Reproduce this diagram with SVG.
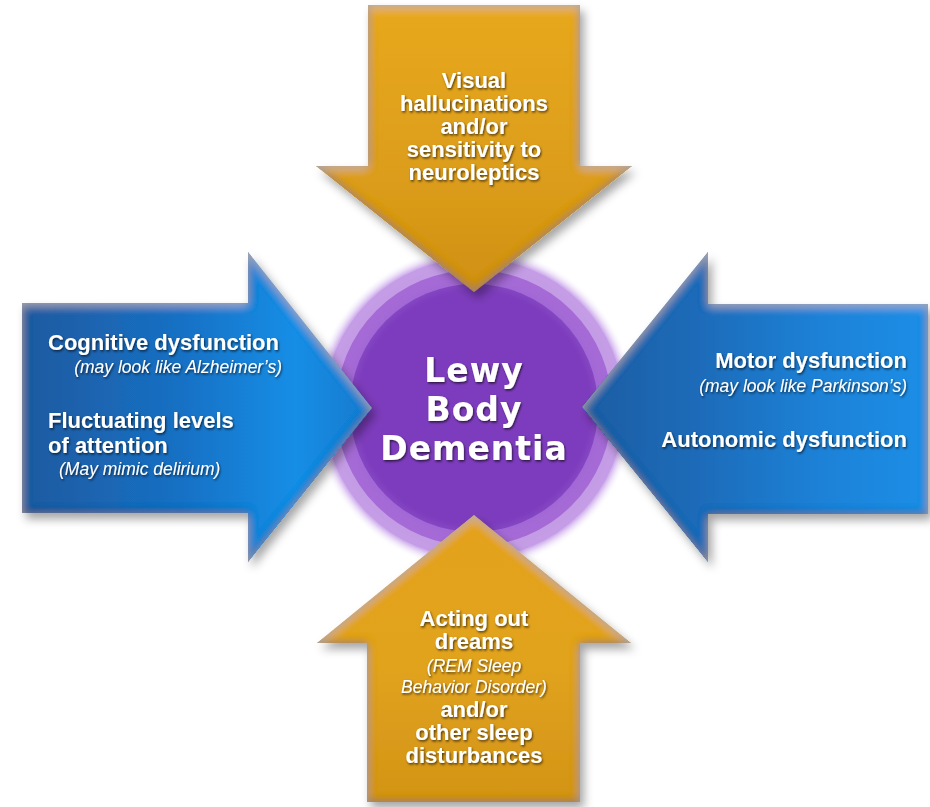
<svg xmlns="http://www.w3.org/2000/svg" width="930" height="807" viewBox="0 0 930 807">
  <style>
    .lbl { font-family: "Liberation Sans", Arial, sans-serif; font-weight: bold; font-size: 22px; fill: #ffffff; }
    .sub { font-family: "Liberation Sans", Arial, sans-serif; font-style: italic; font-size: 17.5px; fill: #ffffff; }
    .ctr { font-family: "DejaVu Sans", sans-serif; font-weight: bold; font-size: 33px; letter-spacing: 1px; fill: #ffffff; }
  </style>
  <defs>
    <!-- soft drop shadow + darkened inner bevel for the arrow shapes -->
    <filter id="bevel" x="-10%" y="-10%" width="125%" height="125%">
      <feGaussianBlur in="SourceAlpha" stdDeviation="5" result="sh"/>
      <feOffset in="sh" dx="4" dy="6" result="sho"/>
      <feFlood flood-color="#000" flood-opacity="0.35"/>
      <feComposite in2="sho" operator="in" result="shadow"/>
      <feGaussianBlur in="SourceAlpha" stdDeviation="5" result="b"/>
      <feComposite in="SourceAlpha" in2="b" operator="arithmetic" k2="1" k3="-1" result="edge"/>
      <feFlood flood-color="#1a0d00" flood-opacity="0.9"/>
      <feComposite in2="edge" operator="in" result="dark"/>
      <feOffset in="b" dx="0" dy="3" result="bo"/>
      <feComposite in="SourceAlpha" in2="bo" operator="arithmetic" k2="1" k3="-1" result="topedge"/>
      <feFlood flood-color="#fff" flood-opacity="0.35"/>
      <feComposite in2="topedge" operator="in" result="light"/>
      <feMerge>
        <feMergeNode in="shadow"/>
        <feMergeNode in="SourceGraphic"/>
        <feMergeNode in="dark"/>
        <feMergeNode in="light"/>
      </feMerge>
    </filter>
    <filter id="txt" x="-10%" y="-20%" width="120%" height="140%">
      <feDropShadow dx="1" dy="1.5" stdDeviation="1" flood-color="#000" flood-opacity="0.65"/>
    </filter>
    <filter id="glow" x="-20%" y="-20%" width="140%" height="140%">
      <feGaussianBlur stdDeviation="3"/>
    </filter>
    <linearGradient id="goldV" x1="0" y1="0" x2="0" y2="1">
      <stop offset="0" stop-color="#e8a81e"/>
      <stop offset="0.6" stop-color="#dc9d1a"/>
      <stop offset="1" stop-color="#cf9016"/>
    </linearGradient>
    <linearGradient id="goldU" x1="0" y1="0" x2="0" y2="1">
      <stop offset="0" stop-color="#e4a21c"/>
      <stop offset="0.5" stop-color="#e2a31e"/>
      <stop offset="1" stop-color="#d39417"/>
    </linearGradient>
    <linearGradient id="blueL" x1="0" y1="0" x2="1" y2="0">
      <stop offset="0" stop-color="#1d5aa0"/>
      <stop offset="0.45" stop-color="#1870c4"/>
      <stop offset="0.78" stop-color="#188ee6"/>
      <stop offset="1" stop-color="#1a79cc"/>
    </linearGradient>
    <linearGradient id="blueR" x1="0" y1="0" x2="1" y2="0">
      <stop offset="0" stop-color="#1a5da3"/>
      <stop offset="0.35" stop-color="#1a6cba"/>
      <stop offset="0.7" stop-color="#1a82d8"/>
      <stop offset="1" stop-color="#1a8ee6"/>
    </linearGradient>
    <radialGradient id="halo" cx="0.5" cy="0.5" r="0.5">
      <stop offset="0.8" stop-color="#b98ee0"/>
      <stop offset="0.93" stop-color="#d2b4ee"/>
      <stop offset="1" stop-color="#ffffff" stop-opacity="0"/>
    </radialGradient>
  </defs>

  <rect width="930" height="807" fill="#ffffff"/>

  <!-- central disc -->
  <g id="center">
    <circle cx="474" cy="408" r="162" fill="url(#halo)"/>
    <circle cx="474" cy="408" r="150" fill="#c39be6" opacity="0.9"/>
    <circle cx="474" cy="408" r="138" fill="#a56ad6"/>
    <circle cx="474" cy="408" r="124" fill="#7d3cbd"/>
    <circle cx="474" cy="408" r="124" fill="none" stroke="#9a62d2" stroke-width="2" filter="url(#glow)"/>
    <g filter="url(#txt)">
      <text class="ctr" x="474" y="382" text-anchor="middle">Lewy</text>
      <text class="ctr" x="474" y="421" text-anchor="middle">Body</text>
      <text class="ctr" x="474" y="460" text-anchor="middle">Dementia</text>
    </g>
  </g>

  <!-- arrows pointing at the disc -->
  <g id="connectors">
    <path id="arrow-top" filter="url(#bevel)" fill="url(#goldV)"
          d="M368,5 L580,5 L580,166 L632,166 L474,292 L316,166 L368,166 Z"/>
    <path id="arrow-bottom" filter="url(#bevel)" fill="url(#goldU)"
          d="M474,515 L631,643 L580,643 L580,802 L367,802 L367,643 L317,643 Z"/>
    <path id="arrow-left" filter="url(#bevel)" fill="url(#blueL)"
          d="M22,303 L248,303 L248,252 L372,408 L248,562 L248,513 L22,513 Z"/>
    <path id="arrow-right" filter="url(#bevel)" fill="url(#blueR)"
          d="M928,304 L708,304 L708,252 L582,407 L708,562 L708,514 L928,514 Z"/>
  </g>

  <g id="node-top" filter="url(#txt)">
    <text class="lbl" x="474" y="88" text-anchor="middle">Visual</text>
    <text class="lbl" x="474" y="111" text-anchor="middle">hallucinations</text>
    <text class="lbl" x="474" y="134" text-anchor="middle">and/or</text>
    <text class="lbl" x="474" y="157" text-anchor="middle">sensitivity to</text>
    <text class="lbl" x="474" y="180" text-anchor="middle">neuroleptics</text>
  </g>

  <g id="node-left" filter="url(#txt)">
    <text class="lbl" x="48" y="350">Cognitive dysfunction</text>
    <text class="sub" x="282" y="373" text-anchor="end">(may look like Alzheimer’s)</text>
    <text class="lbl" x="48" y="428">Fluctuating levels</text>
    <text class="lbl" x="48" y="453">of attention</text>
    <text class="sub" x="59" y="475">(May mimic delirium)</text>
  </g>

  <g id="node-right" filter="url(#txt)">
    <text class="lbl" x="907" y="368" text-anchor="end">Motor dysfunction</text>
    <text class="sub" x="907" y="392" text-anchor="end">(may look like Parkinson’s)</text>
    <text class="lbl" x="907" y="447" text-anchor="end">Autonomic dysfunction</text>
  </g>

  <g id="node-bottom" filter="url(#txt)">
    <text class="lbl" x="474" y="626" text-anchor="middle">Acting out</text>
    <text class="lbl" x="474" y="649" text-anchor="middle">dreams</text>
    <text class="sub" x="474" y="672" text-anchor="middle">(REM Sleep</text>
    <text class="sub" x="474" y="693" text-anchor="middle">Behavior Disorder)</text>
    <text class="lbl" x="474" y="717" text-anchor="middle">and/or</text>
    <text class="lbl" x="474" y="740" text-anchor="middle">other sleep</text>
    <text class="lbl" x="474" y="763" text-anchor="middle">disturbances</text>
  </g>
</svg>
